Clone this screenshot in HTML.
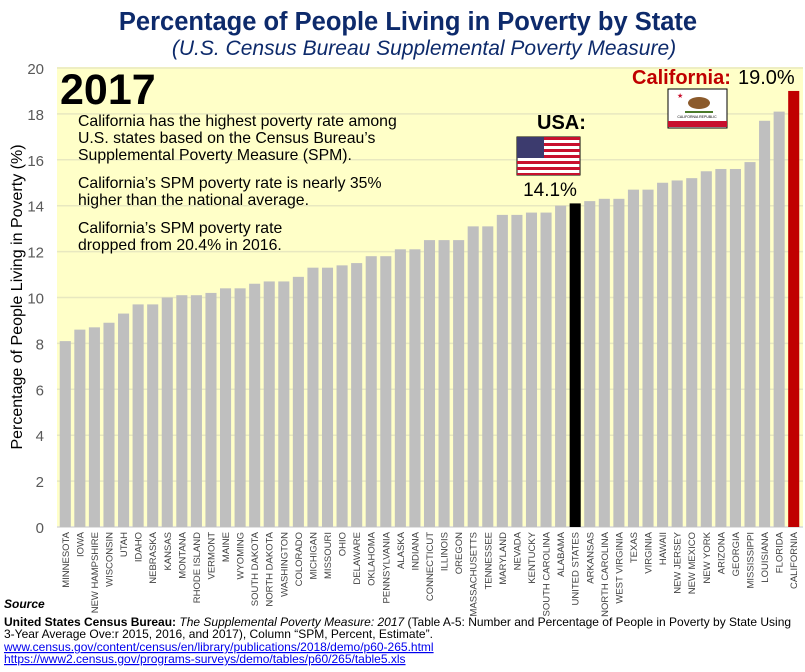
<!DOCTYPE html>
<html><head><meta charset="utf-8"><style>
body{margin:0;background:#fff;width:805px;height:667px;overflow:hidden;font-family:"Liberation Sans",sans-serif}
</style></head><body>
<svg id="c" width="805" height="667" xmlns="http://www.w3.org/2000/svg" font-family="Liberation Sans, sans-serif">
<rect x="57" y="67" width="746" height="460" fill="#ffffc8"/>
<g id="grid"></g><g id="bars"></g><g id="ylabels"></g><g id="xlabels"></g>
<text x="408" y="30" text-anchor="middle" font-size="25.5" font-weight="bold" fill="#0d2a6b">Percentage of People Living in Poverty by State</text>
<text x="424" y="55" text-anchor="middle" font-size="21" font-style="italic" fill="#0d2a6b">(U.S. Census Bureau Supplemental Poverty Measure)</text>
<text transform="translate(22,297) rotate(-90)" text-anchor="middle" font-size="16" fill="#000">Percentage of People Living in Poverty (%)</text>
<text x="60" y="104" font-size="43" font-weight="bold" fill="#000">2017</text>
<g font-size="15.8" fill="#000">
<text x="78" y="126">California has the highest poverty rate among</text>
<text x="78" y="143">U.S. states based on the Census Bureau’s</text>
<text x="78" y="160">Supplemental Poverty Measure (SPM).</text>
<text x="78" y="188">California’s SPM poverty rate is nearly 35%</text>
<text x="78" y="205">higher than the national average.</text>
<text x="78" y="233">California’s SPM poverty rate</text>
<text x="78" y="250">dropped from 20.4% in 2016.</text>
</g>
<text x="537" y="129" font-size="20" font-weight="bold">USA:</text>
<g>
<rect x="517" y="137" width="63" height="38" fill="#fff" stroke="#000"/>
<rect x="517" y="137" width="63" height="3" fill="#c8102e"/><rect x="517" y="143" width="63" height="3" fill="#c8102e"/><rect x="517" y="149" width="63" height="3" fill="#c8102e"/><rect x="517" y="155" width="63" height="3" fill="#c8102e"/><rect x="517" y="161" width="63" height="3" fill="#c8102e"/><rect x="517" y="167" width="63" height="3" fill="#c8102e"/><rect x="517" y="173" width="63" height="2" fill="#c8102e"/>
<rect x="517" y="137" width="27" height="21" fill="#3c3b6e"/>
</g>
<text x="550" y="196" text-anchor="middle" font-size="19">14.1%</text>
<text x="632" y="84" font-size="20" font-weight="bold" fill="#c00000">California:</text>
<text x="738" y="84" font-size="20">19.0%</text>
<g>
<rect x="668" y="89" width="59" height="39" fill="#fff" stroke="#000"/>
<rect x="668" y="121" width="59" height="6" fill="#c8102e"/>
<ellipse cx="699" cy="103" rx="11" ry="6" fill="#8b5a2b"/>
<rect x="685" y="111" width="28" height="2" fill="#4a7a2a"/>
<text x="677" y="98" font-size="7" fill="#c8102e">★</text>
<text x="697" y="118" font-size="3.5" text-anchor="middle">CALIFORNIA REPUBLIC</text>
</g>
<g font-size="12">
<text x="4" y="608" font-weight="bold" font-style="italic">Source</text>
<text x="4" y="626"><tspan font-weight="bold">United States Census Bureau:</tspan> <tspan font-style="italic">The Supplemental Poverty Measure: 2017</tspan> (Table A-5: Number and Percentage of People in Poverty by State Using</text>
<text x="4" y="638">3-Year Average Ove:r 2015, 2016, and 2017), Column “SPM, Percent, Estimate”.</text>
<text x="4" y="651" fill="#0000ee" text-decoration="underline">www.census.gov/content/census/en/library/publications/2018/demo/p60-265.html</text>
<text x="4" y="663" fill="#0000ee" text-decoration="underline">https://www2.census.gov/programs-surveys/demo/tables/p60/265/table5.xls</text>
</g>
</svg>
<script>
const states=["MINNESOTA","IOWA","NEW HAMPSHIRE","WISCONSIN","UTAH","IDAHO","NEBRASKA","KANSAS","MONTANA","RHODE ISLAND","VERMONT","MAINE","WYOMING","SOUTH DAKOTA","NORTH DAKOTA","WASHINGTON","COLORADO","MICHIGAN","MISSOURI","OHIO","DELAWARE","OKLAHOMA","PENNSYLVANIA","ALASKA","INDIANA","CONNECTICUT","ILLINOIS","OREGON","MASSACHUSETTS","TENNESSEE","MARYLAND","NEVADA","KENTUCKY","SOUTH CAROLINA","ALABAMA","UNITED STATES","ARKANSAS","NORTH CAROLINA","WEST VIRGINIA","TEXAS","VIRGINIA","HAWAII","NEW JERSEY","NEW MEXICO","NEW YORK","ARIZONA","GEORGIA","MISSISSIPPI","LOUISIANA","FLORIDA","CALIFORNIA"];
const values=[8.1,8.6,8.7,8.9,9.3,9.7,9.7,10.0,10.1,10.1,10.2,10.4,10.4,10.6,10.7,10.7,10.9,11.3,11.3,11.4,11.5,11.8,11.8,12.1,12.1,12.5,12.5,12.5,13.1,13.1,13.6,13.6,13.7,13.7,14.0,14.1,14.2,14.3,14.3,14.7,14.7,15.0,15.1,15.2,15.5,15.6,15.6,15.9,17.7,18.1,19.0];
const yTicks=[0,2,4,6,8,10,12,14,16,18,20];
const NS="http://www.w3.org/2000/svg";
const x0=58,x1=801,yBase=527,yTop=68,yMax=20;
const slot=(x1-x0)/states.length;
const y=v=>yBase-(v/yMax)*(yBase-yTop);
const xs=i=>x0+i*slot;
function mk(t,a,p){const e=document.createElementNS(NS,t);for(const k in a)e.setAttribute(k,a[k]);p.appendChild(e);return e;}
const grid=document.getElementById('grid'),yl=document.getElementById('ylabels');
yTicks.forEach(t=>{
 const l=mk('line',{x1:57,x2:803,y1:y(t),y2:y(t),stroke:t===0?'#d9d9d9':'#e8e8c0','stroke-width':1.5},grid);
 
 
 const tx=mk('text',{x:44,y:y(t)+6,'text-anchor':'end','font-size':15,fill:'#595959'},yl);
 tx.textContent=t;
 
 
});
const bg=document.getElementById('bars'),xl=document.getElementById('xlabels');
states.forEach((s,i)=>{
 const c=s==="CALIFORNIA"?'#c00000':(s==="UNITED STATES"?'#000':'#bfbfbf');
 const bw=slot*0.76;
 const r=mk('rect',{x:xs(i)+(slot-bw)/2,y:y(values[i]),width:bw,height:yBase-y(values[i]),fill:c},bg);
 
 
 const cx=xs(i)+slot/2+3.5;
 const t=mk('text',{transform:`translate(${cx},532) rotate(-90)`,'text-anchor':'end','font-size':9.5,fill:'#404040'},xl);
 t.textContent=s;
 
 
});
</script>
</body></html>
